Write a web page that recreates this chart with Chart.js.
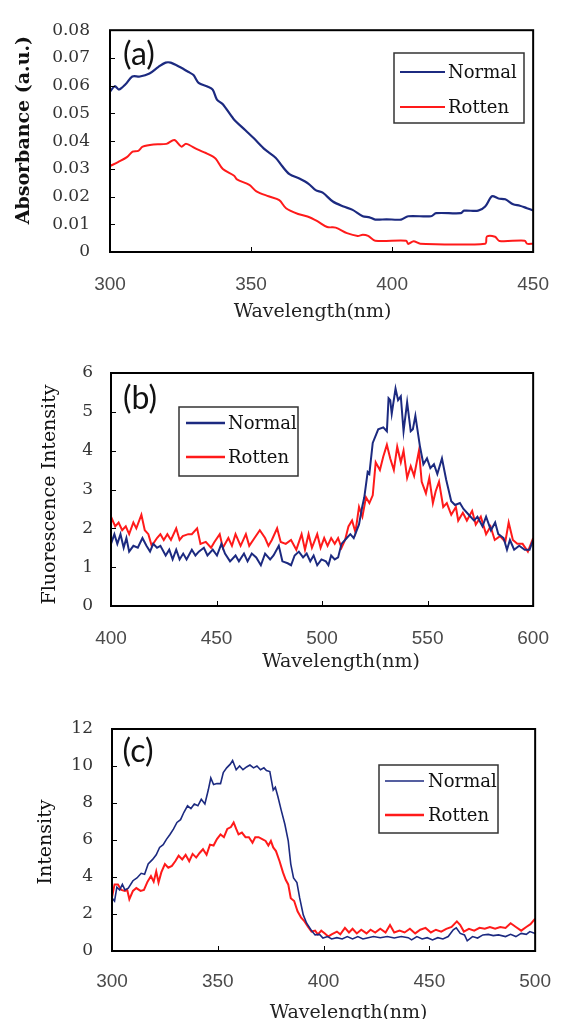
<!DOCTYPE html>
<html>
<head>
<meta charset="utf-8">
<script src="https://cdn.jsdelivr.net/npm/chart.js@4.4.1/dist/chart.umd.min.js"></script>
<style>
  html, body { margin: 0; padding: 0; background: #fff; }
  #wrap { position: relative; width: 570px; height: 1019px; overflow: hidden; }
  .panel { position: absolute; left: 0; width: 570px; }
</style>
</head>
<body>
<div id="wrap">
  <div class="panel" style="top:0;height:340px"><canvas id="chartA"></canvas></div>
  <div class="panel" style="top:340px;height:350px"><canvas id="chartB"></canvas></div>
  <div class="panel" style="top:690px;height:329px"><canvas id="chartC"></canvas></div>
</div>
<script>
// ======================
// data (a) absorbance
// ======================
const aNormalWl  = [300, 301.7, 303.2, 305.5, 307.9, 310.6, 314, 317.2, 319.7, 321.5, 324.6, 327.7, 329.6, 331.4, 334.5, 336.4, 337.9, 340, 343.8, 348, 351, 355, 358.7, 361, 363.6, 367.3, 370.4, 372.9, 375.4, 379, 382.8, 386, 389.6, 392, 394, 398, 403.2, 405.7, 413.8, 415.6, 424.3, 425.5, 430.5, 433, 435.4, 437.7, 440.1, 442.9, 445.3, 447.8, 450];
const aNormalAbs = [0.0578, 0.0598, 0.0586, 0.0605, 0.0633, 0.0633, 0.0644, 0.0668, 0.0683, 0.0683, 0.0668, 0.065, 0.0638, 0.061, 0.0597, 0.0586, 0.055, 0.0533, 0.048, 0.0439, 0.041, 0.0369, 0.034, 0.031, 0.0281, 0.0264, 0.0246, 0.0223, 0.0214, 0.0182, 0.0164, 0.0152, 0.0129, 0.0125, 0.0117, 0.0118, 0.0117, 0.0129, 0.0129, 0.014, 0.014, 0.0149, 0.0149, 0.0164, 0.0201, 0.0193, 0.019, 0.0172, 0.0167, 0.0158, 0.015];
const aRottenWl  = [300, 303, 306, 308, 310, 311.6, 315.4, 320, 322.8, 325.3, 327, 331, 334, 336.4, 337.6, 340, 344, 345, 349.4, 351.9, 356.2, 360, 362.4, 366.7, 370, 373.5, 377, 380, 384, 387.8, 389.6, 391.5, 394, 405, 405.7, 407.6, 410, 433, 433.6, 436.5, 438, 447, 447.8, 450];
const aRottenAbs = [0.031, 0.0325, 0.0342, 0.0362, 0.0365, 0.038, 0.0388, 0.039, 0.0404, 0.038, 0.039, 0.037, 0.0357, 0.0345, 0.0335, 0.0299, 0.0275, 0.0262, 0.0242, 0.0219, 0.0201, 0.0187, 0.0158, 0.0137, 0.0128, 0.0111, 0.009, 0.0088, 0.0068, 0.0058, 0.0062, 0.0058, 0.0041, 0.0041, 0.0029, 0.0039, 0.003, 0.003, 0.0056, 0.0055, 0.004, 0.0041, 0.003, 0.003];

// ======================
// data (b) fluorescence
// ======================
const bNormalWl  = [400, 401.6, 403, 404.5, 406, 407.3, 408.6, 410.6, 412.7, 414.9, 416.8, 418.5, 420, 421.8, 423.4, 425.9, 427.6, 429.2, 430.9, 432.5, 434.2, 435.8, 438.3, 440, 441.6, 444, 445.7, 448.2, 450.2, 452.3, 454, 456.4, 459, 460.6, 463, 464.7, 466.7, 468.8, 471, 473, 475.4, 477, 479.5, 481.2, 483.7, 485.3, 487, 489, 491, 492.7, 494.4, 496, 497.7, 499.7, 501.8, 503, 504.3, 506, 507.6, 509.2, 511.7, 513.4, 515, 517.5, 519, 520, 521.6, 522.4, 524, 526.6, 529, 530.7, 531.5, 532.3, 533, 534.8, 536, 537.3, 538.6, 540.3, 542, 543, 544.2, 546.4, 548, 549.7, 551.3, 553, 554.6, 556.8, 558.8, 561.2, 563, 565.3, 567, 569.5, 572, 573.6, 576, 577.7, 580, 582, 583.5, 586, 587.6, 589, 591, 593.4, 596, 598.3, 600];
const bNormalInt = [1.6, 1.85, 1.6, 1.85, 1.5, 1.75, 1.4, 1.55, 1.5, 1.75, 1.55, 1.4, 1.6, 1.5, 1.55, 1.3, 1.45, 1.2, 1.45, 1.2, 1.35, 1.2, 1.45, 1.3, 1.4, 1.5, 1.3, 1.45, 1.3, 1.6, 1.35, 1.15, 1.3, 1.15, 1.35, 1.15, 1.35, 1.25, 1.05, 1.35, 1.2, 1.3, 1.55, 1.15, 1.1, 1.05, 1.3, 1.4, 1.25, 1.35, 1.15, 1.3, 1.05, 1.2, 1.15, 1.05, 1.3, 1.2, 1.25, 1.6, 1.75, 1.85, 1.75, 2.1, 2.55, 2.8, 3.45, 3.4, 4.2, 4.55, 4.6, 4.5, 5.35, 5.3, 4.95, 5.6, 5.3, 5.4, 4.5, 5.25, 4.5, 4.55, 4.9, 4.1, 3.65, 3.8, 3.55, 3.65, 3.4, 3.8, 3.25, 2.7, 2.6, 2.65, 2.5, 2.35, 2.2, 2.3, 2.05, 2.3, 1.95, 2.15, 1.85, 1.75, 1.45, 1.7, 1.45, 1.55, 1.45, 1.45, 1.7];
const bRottenWl  = [400, 402, 403.6, 405.3, 407, 408.6, 410.6, 412, 414.4, 416, 417.7, 419.3, 421.8, 423.4, 425, 426.7, 428.4, 430.9, 432.5, 434, 436.6, 438.3, 440.8, 442.4, 444.9, 447.4, 449, 451.5, 453, 455.6, 457.3, 459, 461.4, 463.9, 465.5, 468, 470.5, 473, 474.6, 476.2, 478.7, 480.4, 482.8, 485.3, 487.8, 490.3, 491.9, 493.6, 495.2, 497.7, 499.3, 501, 502.6, 504.3, 506, 507.6, 509.2, 510.9, 512.5, 514.2, 515.8, 517.5, 519.1, 520.8, 522.4, 524, 525.4, 527.4, 529, 530.7, 532.3, 534, 535.6, 537.3, 538.6, 540.3, 542, 543.6, 545.9, 547.2, 549.2, 550.8, 552.5, 553.8, 555.4, 557.4, 559.1, 561.2, 563.4, 564.5, 566.7, 568.6, 571.1, 572.8, 575.2, 577.7, 579.8, 581.8, 584.3, 586.8, 588.4, 590.4, 592.5, 595, 597.5, 600];
const bRottenInt = [2.3, 2.05, 2.15, 1.95, 2.05, 1.85, 2.15, 2.0, 2.35, 1.95, 1.85, 1.55, 1.75, 1.85, 1.7, 1.85, 1.7, 2.0, 1.7, 1.8, 1.85, 1.85, 2.0, 1.6, 1.65, 1.5, 1.65, 1.85, 1.5, 1.75, 1.55, 1.85, 1.55, 1.85, 1.55, 1.75, 1.95, 1.75, 1.55, 1.7, 2.0, 1.65, 1.6, 1.7, 1.45, 1.85, 1.45, 1.85, 1.5, 1.85, 1.5, 1.75, 1.55, 1.75, 1.6, 1.75, 1.5, 1.7, 2.05, 2.2, 1.9, 2.55, 2.3, 2.8, 2.65, 2.85, 3.7, 3.5, 3.85, 4.15, 3.8, 3.5, 4.1, 3.7, 4.0, 3.3, 3.6, 3.35, 4.0, 3.2, 2.9, 3.3, 2.65, 2.95, 3.2, 2.55, 2.65, 2.35, 2.55, 2.2, 2.4, 2.2, 2.45, 2.1, 2.3, 1.85, 2.05, 1.7, 1.8, 1.65, 2.15, 1.7, 1.6, 1.6, 1.4, 1.75];

// ======================
// data (c) intensity
// ======================
const cNormalWl  = [300, 301.2, 302.3, 303.6, 304.9, 306.1, 307.7, 309.9, 311.8, 313.8, 315.4, 317.1, 319.2, 320.9, 322.5, 324.2, 325.8, 327.4, 329.1, 330.7, 332.4, 334, 335.7, 337.3, 338.9, 340.6, 342.2, 343.9, 345.5, 346.7, 348, 349.6, 351.3, 352.6, 354.2, 355.9, 357, 358.7, 360.3, 361.9, 363.6, 365.2, 366.9, 368.5, 370.2, 371.8, 373, 374.6, 376.2, 377.2, 378.4, 380, 381.7, 383.3, 384.5, 385.8, 387.4, 388.7, 390.4, 392, 394, 396, 398.1, 399.7, 401.9, 403.8, 406.3, 408.8, 411.2, 413.7, 416.2, 418.6, 421.1, 423.6, 426.8, 430.1, 433.4, 436.7, 440, 441.6, 444.1, 446.6, 449, 451.5, 454, 456.4, 458.9, 461.3, 462.7, 464.6, 466.6, 467.9, 470.4, 472.8, 475.3, 477.8, 480.2, 482.7, 486, 488.4, 490.9, 493.4, 495.8, 497.5, 500];
const cNormalInt = [2.87, 2.7, 3.45, 3.3, 3.6, 3.3, 3.4, 3.8, 3.95, 4.2, 4.15, 4.7, 4.95, 5.2, 5.6, 5.75, 6.05, 6.3, 6.6, 6.95, 7.1, 7.5, 7.85, 7.7, 7.95, 7.85, 8.2, 7.95, 8.7, 9.35, 9.0, 9.05, 9.05, 9.65, 9.9, 10.1, 10.3, 9.8, 10.0, 9.8, 9.95, 10.05, 9.9, 10.0, 9.8, 9.9, 9.75, 9.7, 8.7, 8.85, 8.35, 7.6, 6.85, 5.95, 4.7, 3.95, 3.7, 2.87, 1.95, 1.5, 1.15, 0.87, 0.9, 0.7, 0.78, 0.65, 0.72, 0.65, 0.78, 0.65, 0.78, 0.65, 0.72, 0.78, 0.72, 0.78, 0.7, 0.78, 0.72, 0.6, 0.78, 0.65, 0.72, 0.6, 0.72, 0.65, 0.78, 1.15, 1.25, 0.95, 0.87, 0.55, 0.78, 0.7, 0.87, 0.9, 0.83, 0.87, 0.78, 0.9, 0.78, 0.95, 0.9, 1.05, 0.95];
const cRottenWl  = [300, 301.2, 302.8, 304.4, 306.1, 307.2, 308.2, 309.9, 311.5, 313.5, 315.1, 316.8, 318.4, 319.7, 320.9, 322, 323.3, 325, 326.6, 328.3, 329.9, 331.5, 333.2, 334.8, 336.5, 338.1, 339.8, 341.4, 343, 344.7, 346.3, 348, 349.6, 351.3, 352.9, 354.5, 356.2, 357.5, 358.7, 359.8, 361.4, 363.1, 364.7, 366.4, 367.7, 369.3, 371, 372.6, 373.9, 375.1, 376.2, 377.5, 379.2, 380.8, 382.1, 383.3, 384.5, 386.1, 387.7, 389.4, 391, 392.7, 394.3, 396, 397.3, 398.9, 400.6, 402.2, 403.8, 406.3, 407.9, 410.1, 412, 413.7, 415.7, 417.8, 420.3, 422.2, 424.4, 426.8, 429.3, 431.4, 433.4, 435.9, 438.3, 440.8, 443.3, 445.7, 448.2, 450.7, 453.1, 455.6, 458, 460.5, 463, 464.6, 466.3, 468.7, 471.2, 473.7, 476.2, 478.6, 481.1, 483.5, 486, 488.4, 490.9, 493.4, 495.8, 497.8, 500];
const cRottenInt = [2.9, 3.6, 3.6, 3.3, 3.25, 3.3, 2.8, 3.25, 3.4, 3.25, 3.3, 3.75, 4.05, 3.75, 4.3, 3.7, 4.25, 4.7, 4.5, 4.6, 4.85, 5.15, 4.95, 5.2, 4.85, 5.25, 5.05, 5.3, 5.5, 5.2, 5.75, 5.7, 6.05, 6.3, 6.15, 6.6, 6.7, 6.95, 6.6, 6.3, 6.4, 6.15, 6.15, 5.85, 6.15, 6.15, 6.05, 5.95, 5.7, 5.95, 5.6, 5.4, 4.85, 4.25, 3.85, 3.6, 2.85, 2.7, 2.15, 1.8, 1.6, 1.3, 1.05, 1.1, 0.9, 1.1, 0.95, 0.78, 0.9, 1.05, 0.9, 1.25, 1.0, 1.2, 0.95, 1.15, 0.95, 1.15, 1.0, 1.2, 1.0, 1.4, 1.0, 1.1, 1.0, 1.2, 0.95, 1.15, 1.25, 1.0, 1.15, 1.05, 1.2, 1.3, 1.6, 1.4, 1.05, 1.2, 1.1, 1.25, 1.2, 1.3, 1.2, 1.3, 1.25, 1.5, 1.3, 1.1, 1.3, 1.45, 1.75];

const NAVY = "#1c2a80";
const RED = "#ff1a1a";
const SERIF = "'DejaVu Serif', serif";

function pts(xs, ys) {
  return xs.map((x, i) => ({ x, y: ys[i] }));
}

// ======================
// 장식 플러그인: 테두리, 축 제목, 패널 라벨, 범례
// ======================
const decor = {
  id: "decor",
  afterDraw(chart, args, o) {
    const { ctx, chartArea: ca, scales } = chart;
    const x = scales.x, y = scales.y;
    ctx.save();

    // 안쪽 눈금
    ctx.strokeStyle = "#000";
    ctx.lineWidth = 1;
    y.ticks.forEach(t => {
      const py = Math.round(y.getPixelForValue(t.value)) + 0.5;
      ctx.beginPath(); ctx.moveTo(ca.left, py); ctx.lineTo(ca.left + 5, py); ctx.stroke();
    });
    x.ticks.forEach(t => {
      const px = Math.round(x.getPixelForValue(t.value)) + 0.5;
      ctx.beginPath(); ctx.moveTo(px, ca.bottom); ctx.lineTo(px, ca.bottom - 5); ctx.stroke();
    });

    // 테두리
    ctx.lineWidth = 2;
    ctx.strokeStyle = "#000";
    ctx.strokeRect(ca.left, ca.top, ca.right - ca.left, ca.bottom - ca.top);

    ctx.fillStyle = "#111";
    ctx.textAlign = "center";
    ctx.textBaseline = "middle";

    // 패널 라벨
    ctx.font = "32px Lato, 'Open Sans', sans-serif";
    ctx.fillText(o.label, ca.left + o.labelDx, ca.top + o.labelDy);

    // x 제목
    ctx.font = "19px " + SERIF;
    ctx.fillStyle = "#222";
    ctx.fillText(o.xTitle, (ca.left + ca.right) / 2 + o.xTitleDx, ca.bottom + o.xTitleDy);

    // y 제목
    ctx.save();
    ctx.translate(o.yTitleX, (ca.top + ca.bottom) / 2 + o.yTitleDy);
    ctx.rotate(-Math.PI / 2);
    ctx.font = o.yTitleFont + " " + SERIF;
    ctx.fillStyle = "#111";
    ctx.fillText(o.yTitle, 0, 0);
    ctx.restore();

    // 범례
    const L = o.legend;
    ctx.fillStyle = "#fff";
    ctx.fillRect(L.x, L.y, L.w, L.h);
    ctx.lineWidth = 1.5;
    ctx.strokeStyle = "#333";
    ctx.strokeRect(L.x, L.y, L.w, L.h);
    ctx.font = "18px " + SERIF;
    ctx.textAlign = "left";
    chart.data.datasets.forEach((ds, i) => {
      const ly = L.y + L.rows[i];
      ctx.strokeStyle = ds.borderColor;
      ctx.lineWidth = L.lineW[i];
      ctx.beginPath(); ctx.moveTo(L.x + L.lx0, ly); ctx.lineTo(L.x + L.lx1, ly); ctx.stroke();
      ctx.fillStyle = "#111";
      ctx.fillText(ds.label, L.x + L.tx, ly + 1);
    });
    ctx.restore();
  }
};

function makeChart(id, cfg) {
  return new Chart(document.getElementById(id), {
    type: "line",
    data: {
      datasets: [
        { label: "Normal", data: cfg.normal, borderColor: NAVY, borderWidth: cfg.nW, pointRadius: 0, tension: cfg.tension, fill: false },
        { label: "Rotten", data: cfg.rotten, borderColor: RED, borderWidth: cfg.rW, pointRadius: 0, tension: cfg.tension, fill: false }
      ]
    },
    options: {
      responsive: true,
      maintainAspectRatio: false,
      animation: false,
      events: [],
      layout: { padding: { top: cfg.padTop, right: cfg.padRight, left: 0, bottom: 0 } },
      plugins: { legend: { display: false }, tooltip: { enabled: false }, decor: cfg.decor },
      scales: {
        x: {
          type: "linear", min: cfg.xMin, max: cfg.xMax,
          ticks: { stepSize: 50, autoSkip: false, maxRotation: 0, padding: cfg.xPad, color: "#4a4a4a", font: { family: "'Liberation Sans', Arial, sans-serif", size: 19 } },
          grid: { display: false, drawTicks: false },
          border: { display: false },
          afterFit(s) { s.height = cfg.xH; }
        },
        y: {
          min: cfg.yMin, max: cfg.yMax,
          ticks: { stepSize: cfg.yStep, autoSkip: false, padding: cfg.yPad, color: "#333", font: { family: "'DejaVu Serif', serif", size: 17 }, callback: cfg.yFmt },
          grid: { display: false, drawTicks: false },
          border: { display: false },
          afterFit(s) { s.width = cfg.yW; }
        }
      }
    },
    plugins: [decor]
  });
}

makeChart("chartA", {
  normal: pts(aNormalWl, aNormalAbs), rotten: pts(aRottenWl, aRottenAbs),
  nW: 2.2, rW: 2, tension: 0.3,
  padTop: 23, padRight: 18, xH: 88, yW: 110, xPad: 21, yPad: 20,
  xMin: 300, xMax: 450, yMin: 0, yMax: 0.08, yStep: 0.01,
  yFmt: v => (Math.abs(v) < 1e-9 ? "0" : v.toFixed(2)),
  decor: {
    label: "(a)", labelDx: 29, labelDy: 24,
    xTitle: "Wavelength(nm)", xTitleDx: -9, xTitleDy: 60,
    yTitle: "Absorbance (a.u.)", yTitleFont: "bold 19px", yTitleX: 24, yTitleDy: -11,
    legend: { x: 394, y: 53, w: 130, h: 70, rows: [19, 54], lx0: 6, lx1: 51, tx: 54, lineW: [2, 2] }
  }
});

makeChart("chartB", {
  normal: pts(bNormalWl, bNormalInt), rotten: pts(bRottenWl, bRottenInt),
  nW: 2, rW: 2, tension: 0,
  padTop: 33, padRight: 18, xH: 84, yW: 111, xPad: 21, yPad: 18,
  xMin: 400, xMax: 600, yMin: 0, yMax: 6, yStep: 1,
  yFmt: v => String(v),
  decor: {
    label: "(b)", labelDx: 29, labelDy: 26,
    xTitle: "Wavelength(nm)", xTitleDx: 19, xTitleDy: 56,
    yTitle: "Fluorescence Intensity", yTitleFont: "19px", yTitleX: 50, yTitleDy: 5,
    legend: { x: 179, y: 67, w: 119, h: 69, rows: [16, 50], lx0: 7, lx1: 46, tx: 49, lineW: [2.5, 2.5] }
  }
});

makeChart("chartC", {
  normal: pts(cNormalWl, cNormalInt), rotten: pts(cRottenWl, cRottenInt),
  nW: 1.6, rW: 2, tension: 0,
  padTop: 39, padRight: 16, xH: 68, yW: 112, xPad: 19, yPad: 19,
  xMin: 300, xMax: 500, yMin: 0, yMax: 12, yStep: 2,
  yFmt: v => String(v),
  decor: {
    label: "(c)", labelDx: 26, labelDy: 23,
    xTitle: "Wavelength(nm)", xTitleDx: 25, xTitleDy: 62,
    yTitle: "Intensity", yTitleFont: "19px", yTitleX: 46, yTitleDy: 2,
    legend: { x: 379, y: 75, w: 119, h: 68, rows: [16, 50], lx0: 6, lx1: 45, tx: 49, lineW: [1.5, 2.5] }
  }
});
</script>
</body>
</html>
